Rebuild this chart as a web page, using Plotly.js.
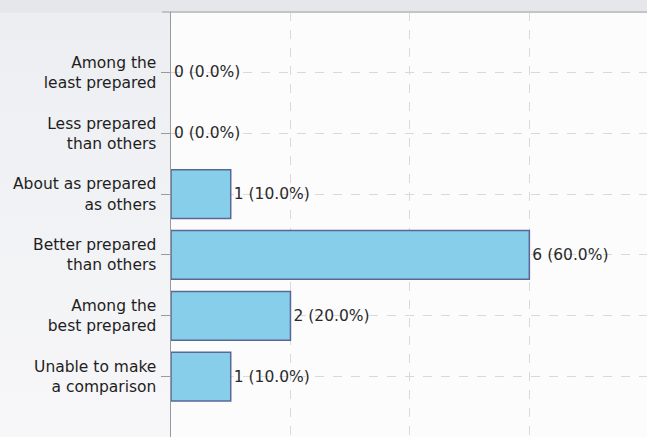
<!DOCTYPE html>
<html>
<head>
<meta charset="utf-8">
<script src="https://cdn.plot.ly/plotly-3.0.1.min.js"></script>
<style>
html,body{margin:0;padding:0;}
body{width:647px;height:437px;overflow:hidden;
background:linear-gradient(to bottom,#e6e7eb 0px,#e6e7eb 12px,#eceef1 13px,#f7f7f9 437px);}
#chart{width:647px;height:437px;}
</style>
</head>
<body>
<div id="chart"></div>
<script>
var categories = [
  "Among the<br>least prepared",
  "Less prepared<br>than others",
  "About as prepared<br>as others",
  "Better prepared<br>than others",
  "Among the<br>best prepared",
  "Unable to make<br>a comparison"
];
var counts = [0, 0, 1, 6, 2, 1];
var percents = [0.0, 0.0, 10.0, 60.0, 20.0, 10.0];

var labels = counts.map(function(c, i){ return c + " (" + percents[i].toFixed(1) + "%)"; });
var outlineWidths = counts.map(function(c){ return c > 0 ? 1.5 : 0; });

var trace = {
  type: "bar",
  orientation: "h",
  y: categories,
  x: counts,
  width: 0.8,
  text: labels,
  textposition: "outside",
  cliponaxis: false,
  textfont: {family: "DejaVu Sans", size: 15.5, color: "#2a2a2a"},
  marker: {color: "#87ceeb", line: {color: "#5a6796", width: outlineWidths}},
  hoverinfo: "none"
};

var layout = {
  width: 647, height: 437,
  margin: {l: 171, r: 0, t: 12, b: 0, pad: 0},
  paper_bgcolor: "rgba(0,0,0,0)",
  plot_bgcolor: "#fcfcfd",
  showlegend: false,
  bargap: 0.2,
  xaxis: {
    range: [0, 7.97],
    dtick: 2,
    showticklabels: false,
    showgrid: true,
    gridcolor: "#d9d9d9",
    griddash: "dash",
    gridwidth: 1,
    zeroline: false,
    showline: false,
    fixedrange: true
  },
  yaxis: {
    type: "category",
    range: [5.99, -0.99],
    showgrid: true,
    gridcolor: "#d9d9d9",
    griddash: "dash",
    gridwidth: 1,
    showline: true,
    linecolor: "#9a9a9a",
    linewidth: 1.5,
    ticks: "outside",
    ticklen: 9,
    tickcolor: "#9a9a9a",
    tickwidth: 1,
    ticklabelstandoff: 1,
    tickfont: {family: "DejaVu Sans", size: 15.5, color: "#1e1e1e"},
    zeroline: false,
    fixedrange: true
  },
  shapes: [
    {type: "line", xref: "paper", yref: "paper", x0: 0, x1: 1, y0: 1, y1: 1,
     line: {color: "#c4c4c4", width: 2}},
    {type: "line", xref: "paper", yref: "paper", x0: -0.019, x1: 0, y0: 1, y1: 1,
     line: {color: "#9a9a9a", width: 1}}
  ],
  font: {family: "DejaVu Sans"}
};

Plotly.newPlot("chart", [trace], layout, {displayModeBar: false, staticPlot: true});
</script>
</body>
</html>
